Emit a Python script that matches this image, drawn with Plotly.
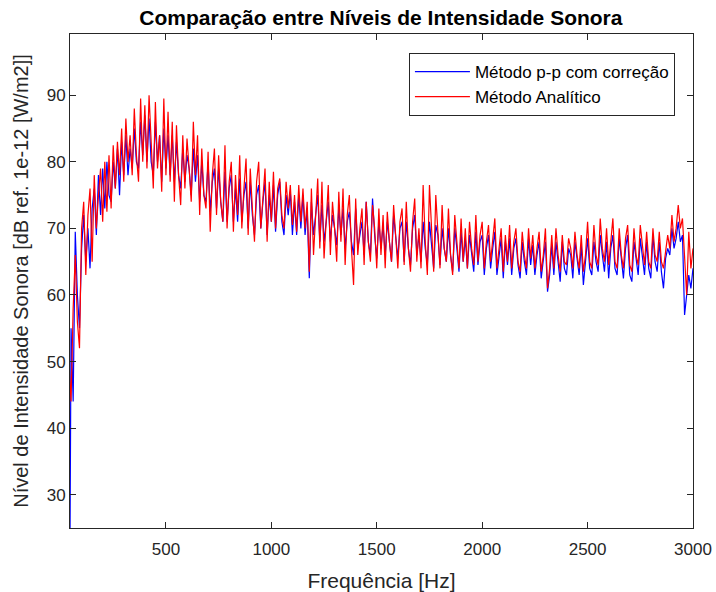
import plotly.graph_objects as go

# Frequency grid (Hz), 10 Hz spacing
freq = list(range(40, 3001, 10))

# Método Analítico (red), dB
red = [
    50, 44, 58, 66, 56, 52, 70, 74, 63, 72,
    76, 65, 78, 70, 75, 79, 71, 80, 72.5, 81,
    73, 82.5, 76, 83, 78, 85, 77, 86.5, 80, 84,
    78, 88, 81, 77, 89.5, 80, 88.5, 79, 90, 82,
    76, 89, 79, 84, 75.5, 89.5, 78, 87.5, 77, 86,
    74, 85.5, 78, 73.5, 84, 76, 83.5, 79, 74, 86,
    78, 84, 72, 82, 75, 73, 81.5, 69.5, 78, 82,
    72, 81, 74, 71, 82.5, 70, 77, 80, 69.5, 78,
    72, 81, 70, 76, 80.5, 69, 79, 73, 68, 77,
    80, 70, 75, 79, 68, 77, 71, 78.5, 70, 76,
    77.5, 72, 70, 77, 73, 76.5, 70.5, 75, 69.5, 76.5,
    71, 76, 70, 74, 63.5, 76, 66, 73, 77.5, 67,
    77, 65.5, 72, 76.5, 66, 74, 70, 65, 75.5, 68,
    76, 64.5, 72, 75, 67, 61.5, 74.5, 66, 70, 73,
    64.5, 74, 68, 65, 73.5, 70, 64, 73, 66, 72,
    64, 72.5, 68, 65, 73.5, 69, 64, 71, 73, 64.5,
    74, 67, 63.5, 71, 74.5, 65, 70, 64, 76.5, 68,
    63, 76.5, 69, 63.5, 75, 70, 64, 73.5, 67, 65,
    73, 66, 63, 72, 68, 64, 71.5, 65, 70, 64,
    71, 67, 64.5, 72, 65, 69, 71, 64, 68, 70.5,
    65, 68, 71.5, 64, 67, 70, 63.5, 69, 65, 70.5,
    64, 68, 70, 65, 63.5, 69.5, 66, 64, 70, 65.5,
    69, 64, 67, 69.5, 63.5, 66, 70, 61, 64, 69,
    64, 70, 66, 63.5, 69, 65, 64.5, 68.5, 67, 64,
    69.5, 66, 64, 69, 63.5, 66, 71, 65, 64, 70.5,
    66, 64.5, 71.5, 67, 65, 70, 64.5, 68, 71.5, 65,
    64, 70, 66, 64, 68.5, 70.5, 64.5, 63.5, 70, 66,
    64.5, 70.5, 67, 64.5, 69.5, 65, 64, 70, 66, 65,
    69.5, 65, 64, 66.5, 69, 67, 72, 68, 70, 73.5,
    70, 71.5, 66, 60, 69.5, 64, 67,
]

# Método p-p com correção (blue), dB
blue = [
    -10, 55, 44, 69.5, 60, 55, 67, 72, 65, 70,
    64, 73, 76, 69, 78, 72, 79, 73, 80, 75,
    74, 80, 76, 82, 75, 83, 78, 84, 78, 82,
    79, 85, 80, 79, 86, 81, 87, 80, 86.5, 80,
    78, 86, 80, 84, 77, 85, 79, 84, 78, 84,
    77, 83, 78, 76, 82, 77, 81, 79, 75, 82,
    77, 81, 74, 80, 75, 74, 80, 72.5, 77, 79,
    73, 79, 74, 71, 78.5, 71, 76, 78, 71, 76,
    71, 77.5, 71, 75, 77, 70, 77, 72, 69, 75,
    76.5, 70, 74, 77, 69, 75, 71, 76.5, 69.5, 75,
    77, 71, 69, 75, 72, 75.5, 69, 74, 69, 75,
    70, 75, 69, 73, 62.5, 74, 69, 72, 75, 68,
    73.5, 68, 71, 74, 68, 72, 70, 67.5, 73, 69,
    73, 67, 71, 72.5, 68, 66, 73, 67, 69, 71,
    66, 74, 68, 66, 74.5, 69, 65.5, 71, 67, 70.5,
    66, 71, 68, 65, 72, 69, 65.5, 70, 71, 65,
    71, 67, 64.5, 70, 72, 66, 69, 65, 71, 67,
    64.5, 71, 68, 64, 70.5, 69, 64.5, 70, 67, 65,
    70, 66, 63.5, 70, 67, 63.5, 69.5, 65, 68.5, 64,
    69, 66, 63.5, 69.5, 64.5, 68, 69, 63, 67, 69,
    64, 67, 69.5, 63, 66, 68.5, 62.5, 68, 64.5, 68.5,
    63, 67, 68.5, 64.5, 62.5, 68, 65, 63, 68.5, 64.5,
    67.5, 63, 66, 68, 62.5, 65, 68, 60.5, 63, 67.5,
    63, 68, 65, 62, 68, 64, 63, 67, 66, 62.5,
    68, 65, 63, 67.5, 61.5, 65, 68.5, 64, 63, 68,
    65, 63.5, 69, 66, 63.5, 68, 62.5, 67, 69, 64,
    63, 68.5, 65, 62.5, 67, 69, 63, 62, 68, 65,
    63, 68.5, 66, 63, 68, 64, 62.5, 69, 65, 63.5,
    68, 63.5, 61, 65.5, 67, 66, 70, 67, 68.5, 71,
    68, 69, 57, 60, 63, 61, 64,
]

assert len(red) == len(freq) and len(blue) == len(freq)

series_names = ["Método p-p com correção", "Método Analítico"]
series_colors = ["#0000FF", "#FF0000"]

x_ticks = [500, 1000, 1500, 2000, 2500, 3000]
y_ticks = [30, 40, 50, 60, 70, 80, 90]

FONT = "Arial, 'Liberation Sans', Helvetica, sans-serif"
AX = "#262626"

fig = go.Figure()
for name, ys, col in zip(series_names, [blue, red], series_colors):
    fig.add_trace(go.Scatter(
        x=freq, y=ys, mode="lines", name=name,
        line=dict(color=col, width=1.2),
    ))

fig.update_layout(
    width=716, height=592,
    margin=dict(l=70, r=23, t=34, b=64),
    paper_bgcolor="white", plot_bgcolor="white",
    font=dict(family=FONT, color=AX, size=17),
    title=dict(
        text="<b>Comparação entre Níveis de Intensidade Sonora</b>",
        x=0.532, xanchor="center", y=0.971, yanchor="middle",
        font=dict(family=FONT, size=21, color="black"),
    ),
    showlegend=True,
    legend=dict(
        x=0.971, xanchor="right", y=0.9615, yanchor="top",
        bgcolor="white", bordercolor=AX, borderwidth=1,
        font=dict(family=FONT, size=17, color="black"),
        itemwidth=55, tracegroupgap=0,
    ),
)
fig.update_xaxes(
    range=[45, 3000], tickvals=x_ticks, ticktext=[str(v) for v in x_ticks],
    ticks="inside", ticklen=6, tickcolor=AX, tickwidth=1,
    showline=True, linecolor=AX, linewidth=1, mirror="ticks",
    showgrid=False, zeroline=False, automargin=False,
    tickfont=dict(size=17), ticklabelstandoff=6,
    title=dict(text="Frequência [Hz]", font=dict(size=21), standoff=14),
)
fig.update_yaxes(
    range=[25, 99.2], tickvals=y_ticks, ticktext=[str(v) for v in y_ticks],
    ticks="inside", ticklen=6, tickcolor=AX, tickwidth=1,
    showline=True, linecolor=AX, linewidth=1, mirror="ticks",
    showgrid=False, zeroline=False, automargin=False,
    tickfont=dict(size=17),
    title=dict(text="Nível de Intensidade Sonora [dB ref. 1e-12 [W/m2]]", font=dict(size=20), standoff=12),
)

# remove the default 8 px page margin so the figure fills the window
fig.write_html(
    "out.html",
    config={"displayModeBar": False},
    post_script="document.body.style.margin='0';",
)
